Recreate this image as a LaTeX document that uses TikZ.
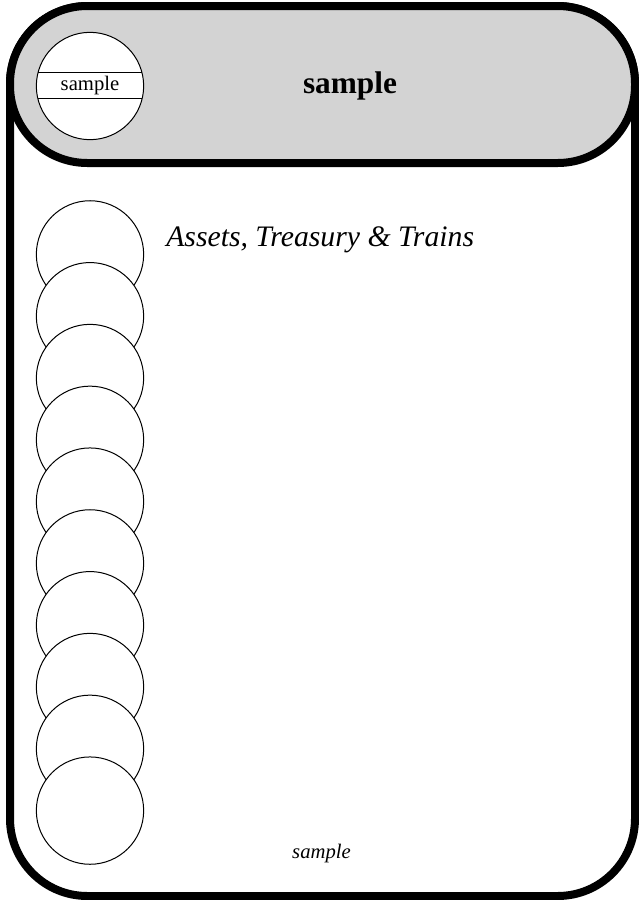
\documentclass[tikz,border=0pt]{standalone}
\usepackage{fontspec}
\setmainfont{Liberation Serif}
\usetikzlibrary{positioning}
\definecolor{headgray}{HTML}{D3D3D3}

\begin{document}
\begin{tikzpicture}[
    x=0.75pt, y=-0.75pt,
    frame/.style={line width=6pt, rounded corners=58pt},
    slot/.style={draw, circle, fill=white, line width=0.75pt, minimum size=80.5pt, inner sep=0pt, outer sep=0pt},
    smalltxt/.style={font=\fontsize{15.5}{18}\selectfont, inner sep=0pt}
]
\useasboundingbox (0,0) rectangle (639,900);
% card and header
\draw[frame, fill=white] (10,6) rectangle (635,896);
\draw[frame, fill=headgray] (10,6) rectangle (635,163);
\node[slot] (hc) at (90,86) {};
\draw[line width=0.75pt] (hc.165) -- (hc.15);
\draw[line width=0.75pt] (hc.194) -- (hc.-14);
\node[smalltxt] (hclabel) at (hc.center) {sample};
\node[font=\fontsize{23.5}{28}\selectfont\bfseries, inner sep=0pt, anchor=base] (title) at (350,93) {sample};
% stacked slots
\foreach \i in {0,...,9}
    \node[slot] (s\i) at (90,254.4+61.8*\i) {};
\node[font=\fontsize{22.3}{26}\selectfont\itshape, inner sep=0pt, anchor=base west] (subtitle) at (166,246) {Assets, Treasury \& Trains};
\node[smalltxt, font=\fontsize{15.5}{18}\selectfont\itshape, anchor=base] (footer) at (321.5,858) {sample};
\end{tikzpicture}
\end{document}
